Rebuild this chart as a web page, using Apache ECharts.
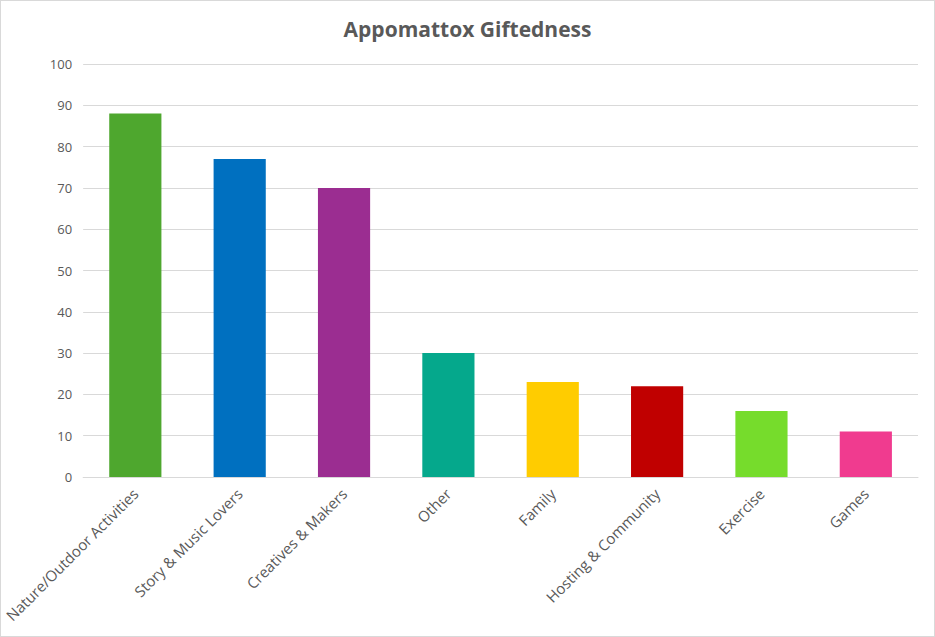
<!DOCTYPE html>
<html>
<head>
<meta charset="utf-8">
<script src="https://cdn.jsdelivr.net/npm/echarts@6/dist/echarts.min.js"></script>
<style>
  html, body { margin: 0; padding: 0; background: #fff; }
  #chart { width: 933px; height: 635px; border: 1px solid #d9d9d9; }
</style>
</head>
<body>
<div id="chart"></div>
<script>
const categories = [
  'Nature/Outdoor Activities',
  'Story & Music Lovers',
  'Creatives & Makers',
  'Other',
  'Family',
  'Hosting & Community',
  'Exercise',
  'Games'
]
const values = [88, 77, 70, 30, 23, 22, 16, 11]
const barColors = ['#4ea72e', '#0070c0', '#9b2d91', '#05a88c', '#ffcc00', '#c00000', '#76dc2c', '#f03b8f']

const font = '"Open Sans", "Liberation Sans", sans-serif'

const chart = echarts.init(document.getElementById('chart'), null, { renderer: 'svg' })

chart.setOption({
  animation: false,
  title: {
    text: 'Appomattox Giftedness',
    left: 'center',
    top: 12,
    textStyle: { fontFamily: font, fontSize: 21, fontWeight: 'bold', color: '#595959' }
  },
  grid: { left: 82, right: 16, top: 63, bottom: 159, containLabel: false },
  xAxis: {
    type: 'category',
    data: categories,
    axisLine: { lineStyle: { color: '#d9d9d9', width: 1 } },
    axisTick: { show: false },
    axisLabel: {
      interval: 0,
      rotate: 45,
      margin: 14,
      fontFamily: font,
      fontSize: 15,
      color: '#595959'
    }
  },
  yAxis: {
    type: 'value',
    min: 0,
    max: 100,
    interval: 10,
    axisLine: { show: false },
    axisTick: { show: false },
    splitLine: { lineStyle: { color: '#d9d9d9', width: 1 } },
    axisLabel: { fontFamily: font, fontSize: 13, color: '#595959', margin: 11 }
  },
  series: [{
    type: 'bar',
    data: values.map((v, i) => ({ value: v, itemStyle: { color: barColors[i] } })),
    barWidth: '50%'
  }]
})
</script>
</body>
</html>
